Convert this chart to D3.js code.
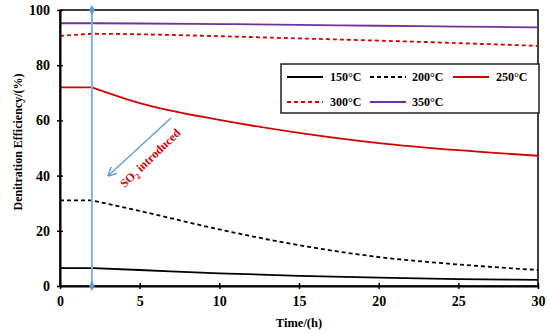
<!DOCTYPE html>
<html>
<head>
<meta charset="utf-8">
<script src="https://cdn.jsdelivr.net/npm/d3@7"></script>
<style>
    body { margin: 0; background: #fff; }
    text { font-family: 'Liberation Serif', 'Times New Roman', serif; font-weight: bold; }
</style>
</head>
<body>
<div id="chart"></div>
<script>
// Data
let times = [0, 2, 5, 10, 15, 20, 25, 30]
let eff150 = [6.5, 6.5, 5.8, 4.6, 3.7, 3.0, 2.5, 2.2]
let eff200 = [31, 31, 27.2, 20.5, 14.8, 10.5, 7.8, 5.8]
let eff250 = [72, 72, 66.3, 60.2, 55.5, 51.8, 49.2, 47.2]
let eff300 = [90.6, 91.4, 91.2, 90.5, 89.7, 88.9, 88.0, 87.0]
let eff350 = [95.2, 95.2, 95.1, 94.9, 94.6, 94.3, 94.0, 93.7]
let seriesNames = ['150°C', '200°C', '250°C', '300°C', '350°C']
let xTicks = [0, 5, 10, 15, 20, 25, 30]
let yTicks = [0, 20, 40, 60, 80, 100]
let so2Time = 2

let svgWidth = 550
let svgHeight = 333
let margin = { top: 10, right: 12, bottom: 47, left: 60 }
let chartWidth = svgWidth - margin.left - margin.right
let chartHeight = svgHeight - margin.top - margin.bottom

let svg = d3.select('#chart')
    .append('svg')
    .attr('width', svgWidth)
    .attr('height', svgHeight)

let chartGroup = svg.append('g')
    .attr('transform', `translate(${margin.left}, ${margin.top})`)

let x = d3.scaleLinear().domain([0, 30]).range([0, chartWidth])
let y = d3.scaleLinear().domain([0, 100]).range([chartHeight, 0])

let series = [
    { name: seriesNames[0], values: eff150, color: '#000', dash: null },
    { name: seriesNames[1], values: eff200, color: '#000', dash: '4,3' },
    { name: seriesNames[2], values: eff250, color: '#d40000', dash: null },
    { name: seriesNames[3], values: eff300, color: '#d40000', dash: '4,3' },
    { name: seriesNames[4], values: eff350, color: '#7030a0', dash: null }
]

// frame
chartGroup.append('rect')
    .attr('width', chartWidth)
    .attr('height', chartHeight)
    .attr('fill', 'none')
    .attr('stroke', '#000')
    .attr('stroke-width', 1.5)

// straight segment before SO2, smooth decay after it
let straight = d3.line()
    .x(d => x(d[0]))
    .y(d => y(d[1]))
let smooth = d3.line()
    .x(d => x(d[0]))
    .y(d => y(d[1]))
    .curve(d3.curveMonotoneX)

const seriesPath = values => {
    let pts = values.map((v, i) => [times[i], v])
    let head = straight(pts.slice(0, 2))
    let tail = smooth(pts.slice(1))
    return head + tail.replace(/^M[^A-Za-z]*/, '')
}

chartGroup.selectAll('path.series')
    .data(series)
    .enter()
    .append('path')
    .classed('series', true)
    .attr('d', d => seriesPath(d.values))
    .attr('fill', 'none')
    .attr('stroke', d => d.color)
    .attr('stroke-width', 1.8)
    .attr('stroke-dasharray', d => d.dash)

// axes
let bottomAxis = d3.axisBottom(x).tickValues(xTicks).tickSize(0).tickPadding(10)
let leftAxis = d3.axisLeft(y).tickValues(yTicks).tickSize(0).tickPadding(10)

let xAxis = chartGroup.append('g')
    .attr('transform', `translate(0, ${chartHeight})`)
    .call(bottomAxis)
let yAxis = chartGroup.append('g')
    .call(leftAxis)

;[xAxis, yAxis].forEach(a => {
    a.select('.domain').attr('stroke', '#000').attr('stroke-width', 2)
    a.selectAll('text').attr('font-size', 14).attr('fill', '#000')
        .style('font-family', "'Liberation Serif', serif").style('font-weight', 'bold')
})

// ticks that cross the axis
xAxis.selectAll('.tick').append('line')
    .attr('y1', -3).attr('y2', 3)
    .attr('stroke', '#000').attr('stroke-width', 1.5)
yAxis.selectAll('.tick').append('line')
    .attr('x1', -3).attr('x2', 3)
    .attr('stroke', '#000').attr('stroke-width', 1.5)

// axis titles
svg.append('text')
    .attr('x', margin.left + chartWidth / 2)
    .attr('y', 327)
    .attr('text-anchor', 'middle')
    .attr('font-size', 12.5)
    .text('Time/(h)')

svg.append('text')
    .attr('transform', `translate(22, 142) rotate(-90)`)
    .attr('text-anchor', 'middle')
    .attr('font-size', 12)
    .text('Denitration Efficiency/(%)')

// SO2 introduction marker
let blue = '#7bb0e3'
chartGroup.append('line')
    .attr('x1', x(so2Time)).attr('x2', x(so2Time))
    .attr('y1', 0).attr('y2', chartHeight)
    .attr('stroke', blue).attr('stroke-width', 2)
chartGroup.selectAll('path.tip')
    .data([0, chartHeight])
    .enter()
    .append('path')
    .attr('d', d3.symbol().type(d3.symbolDiamond).size(28))
    .attr('transform', d => `translate(${x(so2Time)}, ${d})`)
    .attr('fill', '#5b9bd5')

let defs = svg.append('defs')
defs.append('marker')
    .attr('id', 'arrow')
    .attr('viewBox', '0 0 10 10')
    .attr('refX', 8).attr('refY', 5)
    .attr('markerWidth', 7).attr('markerHeight', 7)
    .attr('orient', 'auto')
    .append('path')
    .attr('d', 'M0,0 L10,5 L0,10')
    .attr('fill', 'none')
    .attr('stroke', '#5b9bd5')
    .attr('stroke-width', 1.5)

svg.append('line')
    .attr('x1', 171).attr('y1', 118)
    .attr('x2', 109).attr('y2', 175)
    .attr('stroke', '#5b9bd5').attr('stroke-width', 1.3)
    .attr('marker-end', 'url(#arrow)')

let note = svg.append('text')
    .attr('transform', 'translate(153, 161) rotate(-44)')
    .attr('text-anchor', 'middle')
    .attr('font-size', 12)
    .attr('fill', '#d40000')
note.append('tspan').text('SO')
note.append('tspan').attr('font-size', 8).attr('dy', 3).text('2')
note.append('tspan').attr('dy', -3).text(' introduced')

// legend
let legend = svg.append('g')
legend.append('rect')
    .attr('x', 281).attr('y', 64)
    .attr('width', 258).attr('height', 49)
    .attr('fill', '#fff')
    .attr('stroke', '#222')
    .attr('stroke-width', 1.5)

let legendPos = [
    { lx: 287, tx: 330, y: 77 },
    { lx: 370, tx: 412, y: 77 },
    { lx: 453, tx: 496, y: 77 },
    { lx: 287, tx: 330, y: 102 },
    { lx: 370, tx: 412, y: 102 }
]

let items = legend.selectAll('g.item')
    .data(series)
    .enter()
    .append('g')
    .classed('item', true)

items.append('line')
    .attr('x1', (d, i) => legendPos[i].lx)
    .attr('x2', (d, i) => legendPos[i].lx + 36)
    .attr('y1', (d, i) => legendPos[i].y)
    .attr('y2', (d, i) => legendPos[i].y)
    .attr('stroke', d => d.color)
    .attr('stroke-width', 1.8)
    .attr('stroke-dasharray', d => d.dash)

items.append('text')
    .attr('x', (d, i) => legendPos[i].tx)
    .attr('y', (d, i) => legendPos[i].y + 4)
    .attr('font-size', 12)
    .text(d => d.name)
</script>
</body>
</html>
